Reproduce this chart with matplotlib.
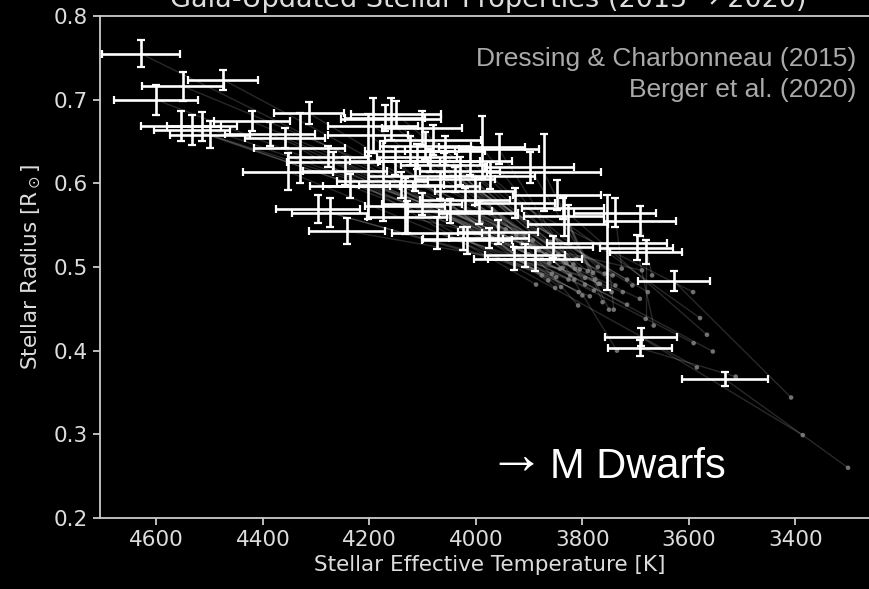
import matplotlib
matplotlib.use("Agg")
import matplotlib.pyplot as plt
import numpy as np

# Berger et al. (2020) values (white, with error bars)
teff_2020 = [4629, 4550, 4475, 4601, 4554, 4533, 4515, 4500, 4421, 4387,
             4359, 4331, 4314, 4353, 4278, 4269, 4297, 4274, 4242, 4193,
             4160, 4171, 4150, 4203, 4101, 3989, 3957, 3872, 3899, 3848,
             3835, 3754, 3739, 3692, 3698, 3681, 3628, 3690, 3692, 3532,
             3855, 3889, 3908, 3929, 3976, 4017, 4024, 4073, 4130, 3959,
             3927, 3827, 3837, 4049, 4101, 4133, 4175, 4203, 4124, 4086,
             4058, 4030, 4115, 4068, 4002, 3974, 4152, 4237, 4246, 4011,
             4095, 4110, 4060, 4080, 4040, 4140, 4020, 3995]
rad_2020 = [0.755, 0.716, 0.724, 0.700, 0.669, 0.664, 0.668, 0.658, 0.674, 0.659,
            0.654, 0.642, 0.684, 0.614, 0.632, 0.625, 0.569, 0.565, 0.543, 0.669,
            0.677, 0.678, 0.683, 0.658, 0.666, 0.643, 0.641, 0.613, 0.619, 0.586,
            0.561, 0.529, 0.565, 0.555, 0.523, 0.518, 0.483, 0.416, 0.403, 0.366,
            0.524, 0.509, 0.514, 0.510, 0.535, 0.532, 0.534, 0.541, 0.560, 0.542,
            0.577, 0.551, 0.570, 0.567, 0.575, 0.573, 0.603, 0.597, 0.639, 0.627,
            0.639, 0.615, 0.609, 0.597, 0.591, 0.609, 0.627, 0.597, 0.615, 0.627,
            0.645, 0.632, 0.622, 0.652, 0.605, 0.598, 0.580, 0.565]
teff_err = [73, 77, 66, 79, 75, 71, 66, 75, 71, 85,
            75, 85, 66, 85, 75, 85, 79, 71, 71, 85,
            94, 75, 85, 75, 75, 81, 75, 107, 83, 83,
            75, 113, 77, 68, 69, 68, 68, 68, 60, 81,
            75, 88, 75, 75, 75, 85, 75, 85, 75, 75,
            75, 75, 77, 79, 75, 75, 85, 85, 85, 94,
            75, 75, 85, 75, 75, 85, 85, 75, 79, 79,
            85, 75, 80, 90, 75, 80, 85, 75]
rad_err = [0.016, 0.017, 0.012, 0.018, 0.018, 0.018, 0.017, 0.016, 0.012, 0.014,
           0.012, 0.042, 0.013, 0.022, 0.013, 0.012, 0.017, 0.017, 0.016, 0.033,
           0.025, 0.016, 0.016, 0.025, 0.020, 0.037, 0.018, 0.046, 0.019, 0.018,
           0.024, 0.057, 0.017, 0.018, 0.015, 0.014, 0.012, 0.011, 0.0095, 0.008,
           0.013, 0.014, 0.014, 0.014, 0.012, 0.016, 0.014, 0.019, 0.019, 0.014,
           0.018, 0.023, 0.013, 0.014, 0.013, 0.033, 0.048, 0.040, 0.017, 0.014,
           0.017, 0.017, 0.018, 0.016, 0.017, 0.016, 0.017, 0.014, 0.017, 0.017,
           0.016, 0.015, 0.014, 0.018, 0.015, 0.016, 0.015, 0.014]

# Dressing & Charbonneau (2015) values (grey dots)
teff_2015 = [3989, 3974, 3958, 3950, 3944, 3934, 3924, 3914, 3908, 3898,
             3893, 3887, 3882, 3876, 3868, 3862, 3857, 3849, 3842, 3837,
             3832, 3823, 3817, 3814, 3808, 3805, 3795, 3780, 3767, 3762,
             3750, 3741, 3726, 3669, 3666, 3681, 3408, 3386, 3512, 3301,
             3735, 3724, 3743, 3807, 3800, 3826, 3786, 3776, 3688, 3692,
             3592, 3579, 3566, 3555, 3591, 3585, 3716, 3778, 3677, 3706,
             3738, 3790, 3851, 3758, 3716, 3771, 3864, 3876, 3901, 3811,
             3845, 3830, 3815, 3860, 3795, 3840, 3770, 3745]
rad_2015 = [0.553, 0.564, 0.548, 0.540, 0.545, 0.535, 0.538, 0.528, 0.540, 0.525,
            0.532, 0.479, 0.520, 0.490, 0.515, 0.505, 0.492, 0.488, 0.498, 0.499,
            0.510, 0.490, 0.503, 0.498, 0.454, 0.497, 0.479, 0.493, 0.480, 0.458,
            0.449, 0.449, 0.498, 0.490, 0.430, 0.438, 0.344, 0.299, 0.369, 0.260,
            0.400, 0.470, 0.490, 0.470, 0.466, 0.485, 0.465, 0.485, 0.496, 0.462,
            0.470, 0.439, 0.419, 0.399, 0.409, 0.380, 0.455, 0.472, 0.470, 0.478,
            0.478, 0.495, 0.475, 0.492, 0.485, 0.500, 0.484, 0.510, 0.515, 0.510,
            0.515, 0.505, 0.485, 0.530, 0.487, 0.476, 0.480, 0.470]

x_ticks = [4600, 4400, 4200, 4000, 3800, 3600, 3400]
y_ticks = [0.2, 0.3, 0.4, 0.5, 0.6, 0.7, 0.8]

fig = plt.figure(figsize=(8.69, 5.89), dpi=100, facecolor="black")
ax = fig.add_axes([100 / 869, 71 / 589, 780 / 869, 502 / 589])
ax.set_facecolor("black")

# trails from 2015 to 2020 positions
for t0, r0, t1, r1 in zip(teff_2015, rad_2015, teff_2020, rad_2020):
    ax.plot([t0, t1], [r0, r1], color="white", alpha=0.16, lw=1.0, zorder=1)

ax.scatter(teff_2015, rad_2015, s=11, color="#8a8a8a", alpha=0.8,
           edgecolors="none", zorder=2)

ax.errorbar(teff_2020, rad_2020, xerr=teff_err, yerr=rad_err, fmt="none",
            ecolor="white", elinewidth=1.9, capsize=3.0, capthick=1.6, zorder=3)

ax.set_xlim(4706, 3241)
ax.set_ylim(0.2, 0.8)
ax.set_xticks(x_ticks)
ax.set_yticks(y_ticks)
ax.set_yticklabels([f"{v:.1f}" for v in y_ticks])

for s in ax.spines.values():
    s.set_color("#cccccc")
    s.set_linewidth(1.3)
ax.tick_params(colors="#dddddd", labelsize=15.5, length=5, width=1.2)

ax.set_xlabel("Stellar Effective Temperature [K]", color="#dddddd",
              fontsize=15.5, labelpad=4)
ax.set_ylabel(r"Stellar Radius [R$_\odot$]", color="#dddddd",
              fontsize=15.5, labelpad=8)

fig.text(488 / 869, 1 - 7 / 589,
         "Gaia-Updated Stellar Properties (2015 \u2192 2020)",
         ha="center", va="baseline", color="#dddddd", fontsize=19.5)

fig.text(856 / 869, 1 - 66 / 589, "Dressing & Charbonneau (2015)",
         ha="right", va="baseline", color="#aaaaaa", fontsize=19,
         family="Liberation Sans")
fig.text(856 / 869, 1 - 97 / 589, "Berger et al. (2020)",
         ha="right", va="baseline", color="#aaaaaa", fontsize=19,
         family="Liberation Sans")

# thin long arrow + label
fig.text(487 / 869, 1 - 474 / 589, "\u2192", ha="left",
         va="baseline", color="white", fontsize=41, family="Liberation Sans")
fig.text(550 / 869, 1 - 478 / 589, "M Dwarfs", ha="left",
         va="baseline", color="white", fontsize=30, family="Liberation Sans")

fig.savefig("out.png", dpi=100, facecolor="black")
